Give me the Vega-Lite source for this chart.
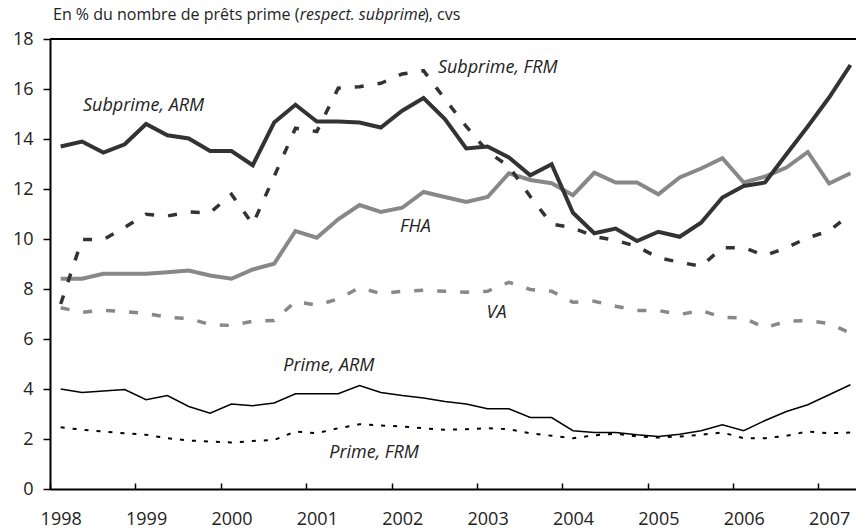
{
  "$schema": "https://vega.github.io/schema/vega-lite/v6.json",
  "width": 806,
  "height": 450,
  "autosize": {"type": "none"},
  "padding": {"left": 50, "top": 39, "right": 0, "bottom": 39},
  "background": "white",
  "config": {
    "view": {"stroke": null},
    "font": "Open Sans",
    "axis": {
      "grid": false,
      "title": null,
      "labelFont": "Open Sans",
      "labelFontSize": 18,
      "labelColor": "#222222",
      "domainColor": "#000000",
      "domainWidth": 2,
      "tickColor": "#000000",
      "tickWidth": 1.5,
      "labelOverlap": false,
      "labelFlush": false
    }
  },
  "data": {
    "values": [
      {"t": 1998.125, "sa": 13.70, "sf": 7.40, "fha": 8.41, "va": 7.25, "pa": 4.00, "pf": 2.47},
      {"t": 1998.375, "sa": 13.90, "sf": 9.98, "fha": 8.41, "va": 7.07, "pa": 3.86, "pf": 2.37},
      {"t": 1998.625, "sa": 13.46, "sf": 9.98, "fha": 8.61, "va": 7.15, "pa": 3.92, "pf": 2.30},
      {"t": 1998.875, "sa": 13.79, "sf": 10.46, "fha": 8.61, "va": 7.10, "pa": 3.98, "pf": 2.23},
      {"t": 1999.125, "sa": 14.60, "sf": 10.99, "fha": 8.61, "va": 7.02, "pa": 3.57, "pf": 2.17},
      {"t": 1999.375, "sa": 14.15, "sf": 10.92, "fha": 8.67, "va": 6.87, "pa": 3.74, "pf": 2.03},
      {"t": 1999.625, "sa": 14.02, "sf": 11.08, "fha": 8.74, "va": 6.82, "pa": 3.30, "pf": 1.94},
      {"t": 1999.875, "sa": 13.52, "sf": 11.05, "fha": 8.54, "va": 6.58, "pa": 3.03, "pf": 1.90},
      {"t": 2000.125, "sa": 13.52, "sf": 11.79, "fha": 8.41, "va": 6.54, "pa": 3.40, "pf": 1.86},
      {"t": 2000.375, "sa": 12.95, "sf": 10.59, "fha": 8.78, "va": 6.71, "pa": 3.33, "pf": 1.92},
      {"t": 2000.625, "sa": 14.66, "sf": 12.50, "fha": 9.01, "va": 6.74, "pa": 3.44, "pf": 1.96},
      {"t": 2000.875, "sa": 15.37, "sf": 14.43, "fha": 10.32, "va": 7.50, "pa": 3.81, "pf": 2.30},
      {"t": 2001.125, "sa": 14.70, "sf": 14.30, "fha": 10.05, "va": 7.35, "pa": 3.81, "pf": 2.23},
      {"t": 2001.375, "sa": 14.70, "sf": 16.03, "fha": 10.79, "va": 7.60, "pa": 3.81, "pf": 2.43},
      {"t": 2001.625, "sa": 14.66, "sf": 16.09, "fha": 11.36, "va": 8.05, "pa": 4.14, "pf": 2.59},
      {"t": 2001.875, "sa": 14.46, "sf": 16.23, "fha": 11.08, "va": 7.82, "pa": 3.86, "pf": 2.54},
      {"t": 2002.125, "sa": 15.13, "sf": 16.60, "fha": 11.25, "va": 7.91, "pa": 3.74, "pf": 2.50},
      {"t": 2002.375, "sa": 15.64, "sf": 16.73, "fha": 11.88, "va": 7.95, "pa": 3.64, "pf": 2.43},
      {"t": 2002.625, "sa": 14.80, "sf": 15.60, "fha": 11.68, "va": 7.91, "pa": 3.50, "pf": 2.37},
      {"t": 2002.875, "sa": 13.62, "sf": 14.50, "fha": 11.48, "va": 7.87, "pa": 3.40, "pf": 2.39},
      {"t": 2003.125, "sa": 13.70, "sf": 13.50, "fha": 11.68, "va": 7.91, "pa": 3.21, "pf": 2.43},
      {"t": 2003.375, "sa": 13.26, "sf": 12.90, "fha": 12.63, "va": 8.27, "pa": 3.21, "pf": 2.39},
      {"t": 2003.625, "sa": 12.55, "sf": 11.70, "fha": 12.36, "va": 7.98, "pa": 2.86, "pf": 2.23},
      {"t": 2003.875, "sa": 12.99, "sf": 10.60, "fha": 12.23, "va": 7.91, "pa": 2.86, "pf": 2.13},
      {"t": 2004.125, "sa": 11.05, "sf": 10.45, "fha": 11.75, "va": 7.47, "pa": 2.33, "pf": 2.03},
      {"t": 2004.375, "sa": 10.23, "sf": 10.10, "fha": 12.65, "va": 7.51, "pa": 2.26, "pf": 2.15},
      {"t": 2004.625, "sa": 10.42, "sf": 9.95, "fha": 12.26, "va": 7.31, "pa": 2.26, "pf": 2.21},
      {"t": 2004.875, "sa": 9.92, "sf": 9.70, "fha": 12.26, "va": 7.14, "pa": 2.17, "pf": 2.10},
      {"t": 2005.125, "sa": 10.29, "sf": 9.25, "fha": 11.79, "va": 7.14, "pa": 2.10, "pf": 2.06},
      {"t": 2005.375, "sa": 10.09, "sf": 9.07, "fha": 12.46, "va": 6.98, "pa": 2.19, "pf": 2.10},
      {"t": 2005.625, "sa": 10.65, "sf": 8.91, "fha": 12.82, "va": 7.14, "pa": 2.33, "pf": 2.17},
      {"t": 2005.875, "sa": 11.66, "sf": 9.65, "fha": 13.23, "va": 6.87, "pa": 2.57, "pf": 2.26},
      {"t": 2006.125, "sa": 12.12, "sf": 9.65, "fha": 12.26, "va": 6.84, "pa": 2.33, "pf": 2.03},
      {"t": 2006.375, "sa": 12.26, "sf": 9.34, "fha": 12.50, "va": 6.45, "pa": 2.74, "pf": 2.03},
      {"t": 2006.625, "sa": 13.39, "sf": 9.65, "fha": 12.86, "va": 6.71, "pa": 3.10, "pf": 2.13},
      {"t": 2006.875, "sa": 14.50, "sf": 10.05, "fha": 13.48, "va": 6.74, "pa": 3.37, "pf": 2.30},
      {"t": 2007.125, "sa": 15.66, "sf": 10.32, "fha": 12.22, "va": 6.62, "pa": 3.77, "pf": 2.23},
      {"t": 2007.375, "sa": 16.96, "sf": 10.99, "fha": 12.63, "va": 6.24, "pa": 4.17, "pf": 2.26}
    ]
  },
  "encoding": {
    "x": {
      "field": "t",
      "type": "quantitative",
      "scale": {"domain": [1998, 2007.44], "nice": false, "zero": false},
      "axis": {
        "values": [1998, 1999, 2000, 2001, 2002, 2003, 2004, 2005, 2006, 2007],
        "format": "d",
        "tickSize": -6,
        "labelPadding": 27,
        "labelOffset": 10.7
      }
    }
  },
  "layer": [
    {
      "mark": {"type": "line", "color": "#888888", "strokeWidth": 3.5, "strokeDash": [9, 14], "strokeCap": "butt"},
      "encoding": {
        "y": {
          "field": "va",
          "type": "quantitative",
          "scale": {"domain": [0, 18], "nice": false, "zero": true},
          "axis": {"values": [0, 2, 4, 6, 8, 10, 12, 14, 16, 18], "tickSize": 7, "labelPadding": 10}
        }
      }
    },
    {
      "mark": {"type": "rule", "color": "#000000", "strokeWidth": 2},
      "encoding": {"y": {"datum": 18, "type": "quantitative"}, "x": {"value": 0}, "x2": {"value": 806}}
    },
    {
      "data": {"values": [{"yt": 2}, {"yt": 4}, {"yt": 6}, {"yt": 8}, {"yt": 10}, {"yt": 12}, {"yt": 14}, {"yt": 16}]},
      "mark": {"type": "tick", "orient": "horizontal", "color": "#000000", "size": 14, "thickness": 1.5, "opacity": 1},
      "encoding": {
        "x": {"datum": 1998, "type": "quantitative"},
        "y": {"field": "yt", "type": "quantitative"}
      }
    },
    {
      "mark": {"type": "line", "color": "#888888", "strokeWidth": 4, "strokeJoin": "miter"},
      "encoding": {"y": {"field": "fha", "type": "quantitative"}}
    },
    {
      "mark": {"type": "line", "color": "#333333", "strokeWidth": 3.5, "strokeDash": [9, 14], "strokeCap": "butt"},
      "encoding": {"y": {"field": "sf", "type": "quantitative"}}
    },
    {
      "mark": {"type": "line", "color": "#333333", "strokeWidth": 4, "strokeJoin": "miter"},
      "encoding": {"y": {"field": "sa", "type": "quantitative"}}
    },
    {
      "mark": {"type": "line", "color": "#000000", "strokeWidth": 1.5},
      "encoding": {"y": {"field": "pa", "type": "quantitative"}}
    },
    {
      "mark": {"type": "line", "color": "#000000", "strokeWidth": 2, "strokeDash": [4, 8], "strokeCap": "butt"},
      "encoding": {"y": {"field": "pf", "type": "quantitative"}}
    },
    {
      "data": {
        "values": [
          {"label": "Subprime, ARM", "x": 1998.386, "y": 15.12},
          {"label": "Subprime, FRM", "x": 2002.543, "y": 16.64},
          {"label": "FHA", "x": 2002.098, "y": 10.30},
          {"label": "VA", "x": 2003.113, "y": 6.86},
          {"label": "Prime, ARM", "x": 2000.732, "y": 4.74},
          {"label": "Prime, FRM", "x": 2001.270, "y": 1.23}
        ]
      },
      "mark": {"type": "text", "align": "left", "baseline": "alphabetic", "font": "Open Sans", "fontStyle": "italic", "fontSize": 18, "color": "#222222"},
      "encoding": {
        "x": {"field": "x", "type": "quantitative"},
        "y": {"field": "y", "type": "quantitative"},
        "text": {"field": "label"}
      }
    },
    {
      "data": {
        "values": [
          {"label": "En % du nombre de prêts prime (", "x": 1998.035, "y": 18.765},
          {"label": "), cvs", "x": 2002.38, "y": 18.765}
        ]
      },
      "mark": {"type": "text", "align": "left", "baseline": "alphabetic", "font": "Open Sans", "fontSize": 16, "color": "#222222"},
      "encoding": {
        "x": {"field": "x", "type": "quantitative"},
        "y": {"field": "y", "type": "quantitative"},
        "text": {"field": "label"}
      }
    },
    {
      "data": {
        "values": [
          {"label": "respect. subprime", "x": 2000.925, "y": 18.765}
        ]
      },
      "mark": {"type": "text", "align": "left", "baseline": "alphabetic", "font": "Open Sans", "fontStyle": "italic", "fontSize": 16, "color": "#222222"},
      "encoding": {
        "x": {"field": "x", "type": "quantitative"},
        "y": {"field": "y", "type": "quantitative"},
        "text": {"field": "label"}
      }
    }
  ]
}
